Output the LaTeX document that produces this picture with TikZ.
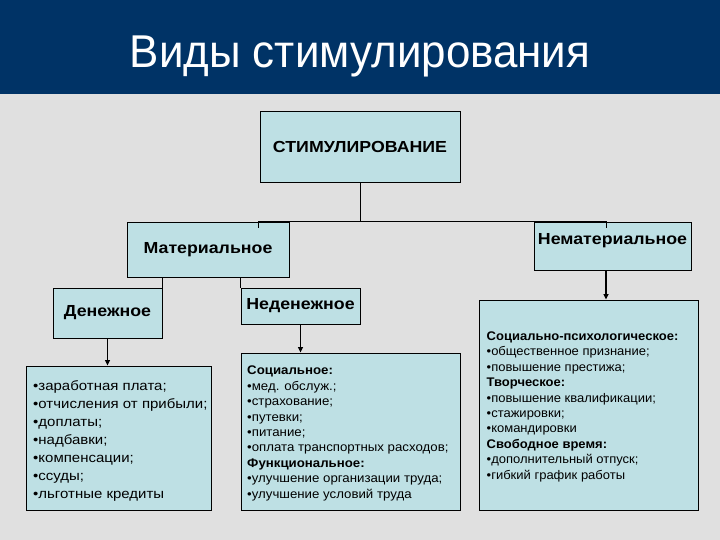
\documentclass[tikz,border=0pt]{standalone}
\usepackage{fontspec}
\setmainfont{Liberation Sans}
\newfontfamily\titlefont[FakeStretch=0.955]{Liberation Sans}
\newfontfamily\hdrfont[FakeStretch=1.11]{Liberation Sans}
\newfontfamily\moneyfont[FakeStretch=1.11]{Liberation Sans}
\newfontfamily\socfont[FakeStretch=1.06]{Liberation Sans}
\newfontfamily\rightfont[FakeStretch=1.04]{Liberation Sans}
\usetikzlibrary{arrows.meta}
\definecolor{navy}{RGB}{0,51,102}
\definecolor{bgc}{RGB}{224,224,224}
\definecolor{boxc}{RGB}{190,224,228}
\begin{document}
\begin{tikzpicture}[x=1pt,y=-1pt,
  box/.style={draw=black, line width=0.9pt, fill=boxc, inner sep=0pt},
  hdr/.style={font=\hdrfont\bfseries\fontsize{16}{19}\selectfont},
  lst/.style={anchor=north west, align=left, inner sep=0pt},
  lnk/.style={line width=0.9pt},
  arr/.style={line width=1.6pt,-{Triangle[length=5.5pt,width=5pt]}}]
\useasboundingbox (0,0) rectangle (720,540);
\fill[bgc] (0,0) rectangle (720,540);
\fill[navy] (0,0) rectangle (720,94);
\node[white, font=\titlefont\fontsize{46}{54}\selectfont, anchor=base, inner sep=0pt] (title) at (360,68) {Виды стимулирования};

\node[box, hdr, minimum width=200pt, minimum height=71pt] (stim) at (360,146.5) {СТИМУЛИРОВАНИЕ};
\node[box, hdr, minimum width=162pt, minimum height=55pt] (mat) at (208,249.5) {Материальное};
\node[box, minimum width=157pt, minimum height=48pt,
  label={[name=nematt, hdr, yshift=5pt]center:Нематериальное}] (nemat) at (612.5,246) {};
\node[box, hdr, minimum width=109pt, minimum height=50pt] (den) at (107.5,313) {Денежное};
\node[box, hdr, minimum width=119pt, minimum height=36pt] (neden) at (300.5,306) {Неденежное};

\node[box, minimum width=185pt, minimum height=144pt] (money) at (118.5,438) {};
\node[box, minimum width=219pt, minimum height=157pt] (soc) at (350.5,431.5) {};
\node[box, minimum width=219pt, minimum height=210pt] (right) at (588.5,405) {};

\node[lst, font=\moneyfont\fontsize{13.5}{18}\selectfont] (moneyt) at (33,380) {%
•заработная плата;\\
•отчисления от прибыли;\\
•доплаты;\\
•надбавки;\\
•компенсации;\\
•ссуды;\\
•льготные кредиты};

\node[lst, font=\socfont\fontsize{12.5}{15.4}\selectfont] (soct) at (247,366) {%
\textbf{Социальное:}\\
•мед. обслуж.;\\
•страхование;\\
•путевки;\\
•питание;\\
•оплата транспортных расходов;\\
\textbf{Функциональное:}\\
•улучшение организации труда;\\
•улучшение условий труда};

\node[lst, font=\rightfont\fontsize{12.5}{15.4}\selectfont] (rightt) at (486.5,331.5) {%
\textbf{Социально-психологическое:}\\
•общественное признание;\\
•повышение престижа;\\
\textbf{Творческое:}\\
•повышение квалификации;\\
•стажировки;\\
•командировки\\
\textbf{Свободное время:}\\
•дополнительный отпуск;\\
•гибкий график работы};

\coordinate (j) at (stim.south |- mat.north);
\draw[lnk] (stim.south) -- (j) -| ([xshift=50pt,yshift=-6pt]mat.north);
\draw[lnk] (j) -| ([xshift=-6.5pt,yshift=-6pt]nemat.north);
\draw[lnk] (mat.south -| den.north east) -- (den.north east);
\draw[lnk] (mat.south -| neden.north west) -- (neden.north west);
\draw[arr] (den.south) -- (den.south |- money.north);
\draw[arr] (neden.south) -- (neden.south |- soc.north);
\draw[arr] ([xshift=-6.5pt]nemat.south) -- ([xshift=-6.5pt]nemat.south |- right.north);
\end{tikzpicture}
\end{document}
